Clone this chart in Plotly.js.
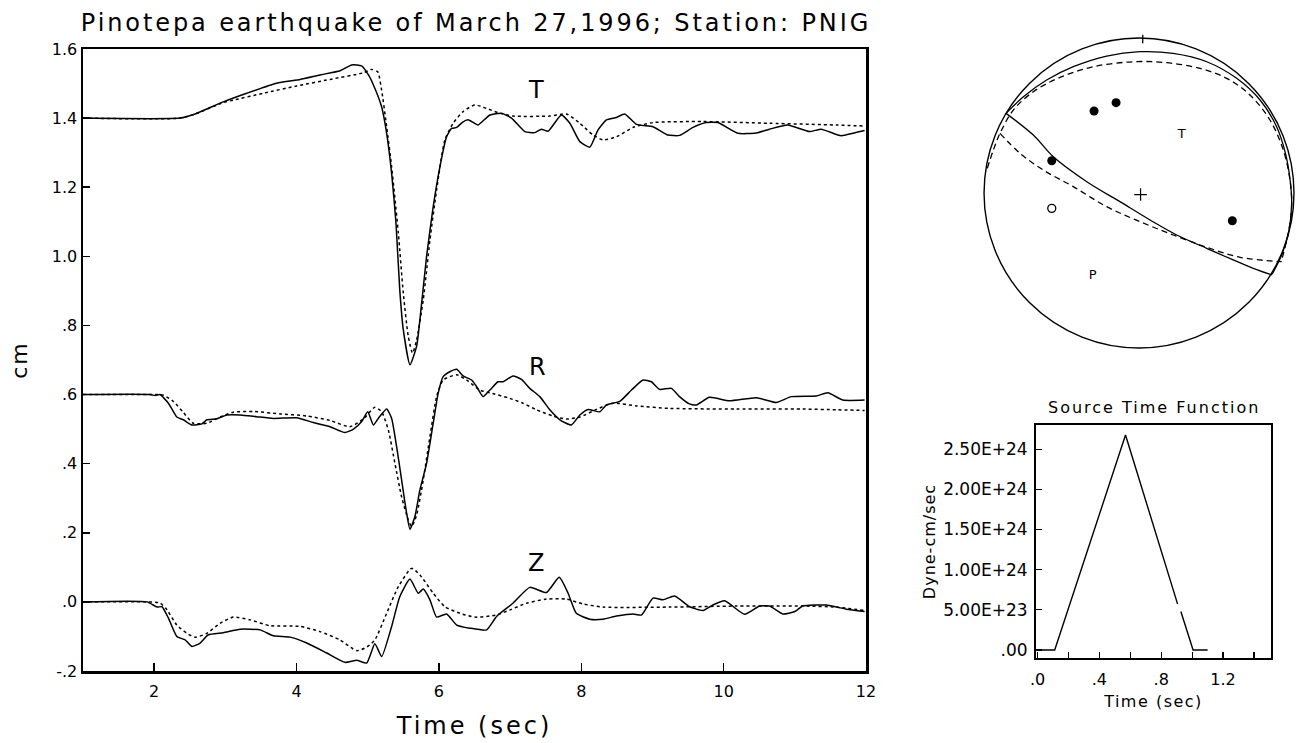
<!DOCTYPE html>
<html><head><meta charset="utf-8">
<script src="https://cdn.plot.ly/plotly-3.0.1.min.js"></script>
<style>html,body{margin:0;padding:0;background:#fff}</style>
</head><body>
<div id="chart" style="width:1296px;height:743px"></div>
<script>
// ---------------- DATA ----------------
const titleText = 'Pinotepa earthquake of March 27,1996; Station: PNIG';
const timeTicks = [2, 4, 6, 8, 10, 12];
const ampTicks = [-0.2, 0, 0.2, 0.4, 0.6, 0.8, 1.0, 1.2, 1.4, 1.6];
const ampTickText = ['-.2', '.0', '.2', '.4', '.6', '.8', '1.0', '1.2', '1.4', '1.6'];

// Transverse component [time, cm]
const obsT = [[1.0,1.4],[2.36,1.4],[2.575,1.412],[2.97,1.447],[3.30,1.472],[3.72,1.501],[4.05,1.512],[4.33,1.525],[4.61,1.537],[4.775,1.554],[4.915,1.551],[5.01,1.525],[5.08,1.496],[5.195,1.433],[5.266,1.356],[5.336,1.240],[5.397,1.096],[5.45,0.903],[5.5,0.787],[5.593,0.686],[5.687,0.74],[5.76,0.87],[5.827,1.0],[5.92,1.144],[6.014,1.259],[6.108,1.346],[6.178,1.37],[6.25,1.373],[6.33,1.388],[6.41,1.395],[6.50,1.385],[6.55,1.38],[6.716,1.409],[6.88,1.414],[7.02,1.40],[7.207,1.361],[7.347,1.358],[7.44,1.368],[7.534,1.362],[7.72,1.409],[7.84,1.385],[7.98,1.332],[8.12,1.316],[8.236,1.366],[8.354,1.395],[8.494,1.402],[8.61,1.412],[8.775,1.382],[9.008,1.375],[9.218,1.351],[9.38,1.35],[9.57,1.373],[9.757,1.387],[9.92,1.387],[10.2,1.356],[10.46,1.357],[10.645,1.368],[10.9,1.38],[11.207,1.361],[11.37,1.368],[11.65,1.349],[11.815,1.356],[11.98,1.364]];
const synT = [[1.0,1.4],[2.36,1.4],[2.575,1.412],[2.97,1.445],[3.113,1.452],[3.534,1.472],[4.0,1.493],[4.47,1.512],[4.937,1.531],[5.055,1.541],[5.14,1.534],[5.195,1.481],[5.266,1.375],[5.336,1.259],[5.43,1.067],[5.5,0.893],[5.57,0.768],[5.63,0.72],[5.687,0.758],[5.78,0.874],[5.874,1.047],[5.968,1.192],[6.084,1.337],[6.2,1.385],[6.34,1.419],[6.505,1.438],[6.67,1.428],[6.856,1.414],[7.04,1.406],[7.56,1.406],[7.79,1.412],[7.98,1.385],[8.166,1.351],[8.306,1.337],[8.494,1.346],[8.727,1.373],[9.008,1.387],[9.71,1.39],[10.645,1.385],[11.58,1.38],[11.98,1.377]];

// Radial component
const obsR = [[1.0,0.6],[1.944,0.6],[2.014,0.597],[2.08,0.6],[2.2,0.575],[2.318,0.535],[2.41,0.527],[2.53,0.512],[2.67,0.515],[2.74,0.527],[2.88,0.53],[3.02,0.541],[3.207,0.541],[3.44,0.536],[3.674,0.531],[4.0,0.533],[4.236,0.519],[4.47,0.507],[4.68,0.49],[4.8,0.5],[4.915,0.522],[5.0,0.55],[5.08,0.512],[5.148,0.531],[5.266,0.558],[5.336,0.531],[5.406,0.449],[5.476,0.353],[5.547,0.256],[5.593,0.21],[5.663,0.247],[5.733,0.324],[5.827,0.401],[5.92,0.517],[5.99,0.604],[6.06,0.652],[6.154,0.666],[6.25,0.673],[6.34,0.654],[6.46,0.642],[6.53,0.623],[6.62,0.594],[6.716,0.613],[6.83,0.637],[6.9,0.637],[7.04,0.654],[7.16,0.644],[7.277,0.618],[7.417,0.594],[7.558,0.556],[7.7,0.527],[7.86,0.512],[7.98,0.541],[8.096,0.557],[8.26,0.55],[8.354,0.57],[8.54,0.58],[8.705,0.613],[8.867,0.642],[8.985,0.637],[9.1,0.615],[9.266,0.618],[9.38,0.594],[9.52,0.573],[9.617,0.57],[9.8,0.592],[10.08,0.582],[10.46,0.591],[10.74,0.577],[10.95,0.594],[11.3,0.596],[11.465,0.605],[11.675,0.584],[11.98,0.584]];
const synR = [[1.0,0.6],[2.04,0.6],[2.13,0.598],[2.27,0.58],[2.41,0.548],[2.55,0.517],[2.74,0.517],[2.926,0.535],[3.113,0.549],[3.394,0.551],[3.768,0.544],[4.143,0.538],[4.47,0.525],[4.75,0.507],[4.937,0.529],[5.1,0.563],[5.196,0.55],[5.29,0.497],[5.382,0.401],[5.476,0.304],[5.57,0.237],[5.617,0.218],[5.687,0.252],[5.78,0.353],[5.874,0.478],[5.968,0.594],[6.06,0.642],[6.25,0.657],[6.39,0.642],[6.575,0.613],[6.716,0.605],[6.996,0.589],[7.18,0.575],[7.37,0.556],[7.6,0.538],[7.79,0.529],[7.98,0.535],[8.213,0.557],[8.446,0.575],[8.775,0.567],[9.24,0.56],[10.18,0.558],[11.11,0.558],[11.58,0.556],[11.98,0.554]];

// Vertical component
const obsZ = [[1.0,0],[1.9,0],[2.04,-0.015],[2.11,-0.014],[2.2,-0.047],[2.318,-0.1],[2.435,-0.11],[2.53,-0.129],[2.646,-0.119],[2.76,-0.095],[2.97,-0.089],[3.207,-0.079],[3.488,-0.081],[3.674,-0.098],[3.909,-0.102],[4.143,-0.119],[4.424,-0.148],[4.68,-0.175],[4.845,-0.169],[4.985,-0.177],[5.1,-0.121],[5.196,-0.158],[5.336,-0.071],[5.45,0.015],[5.593,0.066],[5.71,0.025],[5.78,0.037],[5.874,0.006],[5.968,-0.044],[6.108,-0.035],[6.25,-0.067],[6.435,-0.076],[6.67,-0.081],[6.81,-0.042],[7.04,-0.004],[7.277,0.042],[7.51,0.027],[7.69,0.071],[7.815,0.025],[7.93,-0.033],[8.12,-0.05],[8.306,-0.05],[8.494,-0.041],[8.727,-0.035],[8.845,-0.038],[9.008,0.011],[9.148,0.006],[9.312,0.017],[9.523,-0.014],[9.71,-0.025],[9.85,-0.009],[10.014,0.003],[10.295,-0.036],[10.505,-0.012],[10.645,-0.012],[10.83,-0.035],[11.0,-0.028],[11.11,-0.012],[11.44,-0.009],[11.72,-0.021],[11.98,-0.028]];
const synZ = [[1.0,0],[1.9,0],[2.08,-0.003],[2.18,-0.023],[2.318,-0.067],[2.46,-0.091],[2.575,-0.102],[2.74,-0.091],[2.926,-0.062],[3.113,-0.044],[3.347,-0.052],[3.628,-0.069],[4.05,-0.071],[4.33,-0.086],[4.61,-0.11],[4.845,-0.141],[4.985,-0.131],[5.1,-0.11],[5.266,-0.033],[5.43,0.044],[5.617,0.097],[5.733,0.078],[5.92,0.025],[6.084,-0.014],[6.295,-0.033],[6.505,-0.044],[6.81,-0.038],[7.0,-0.023],[7.23,-0.004],[7.51,0.008],[7.79,0.008],[8.025,-0.006],[8.306,-0.015],[9.24,-0.015],[10.18,-0.012],[11.11,-0.012],[11.58,-0.015],[11.98,-0.025]];

const compLabels = ['T', 'R', 'Z'];
const compLabelPos = [[7.37,1.481],[7.39,0.681],[7.37,0.112]];

// Source time function
const stfTime = [0, 0.111, 0.569, 0.906, null, 0.927, 1.006, 1.10];
const stfRate = [0, 0, 2.675e24, 5.71e23, null, 4.79e23, 0, 0];
const stfTickVals = [0, 0.2, 0.4, 0.6, 0.8, 1.0, 1.2, 1.4];
const stfTickText = ['.0', '', '.4', '', '.8', '', '1.2', ''];
const stfYTicks = [0, 5e23, 1e24, 1.5e24, 2e24, 2.5e24];
const stfYText = ['.00', '5.00E+23', '1.00E+24', '1.50E+24', '2.00E+24', '2.50E+24'];

// Focal mechanism (lower hemisphere, unit radius)
const planeA = [[-0.858,0.514],[-0.746,0.621],[-0.596,0.729],[-0.424,0.815],[-0.209,0.884],[0.006,0.912],[0.221,0.901],[0.437,0.847],[0.630,0.740],[0.781,0.600],[0.888,0.428],[0.945,0.256],[0.975,0.084],[0.985,-0.066],[0.968,-0.239],[0.925,-0.389],[0.860,-0.523]];
const planeB = [[-0.858,0.514],[-0.682,0.374],[-0.553,0.234],[-0.337,0.073],[-0.123,-0.056],[0.071,-0.174],[0.243,-0.271],[0.437,-0.357],[0.608,-0.432],[0.737,-0.486],[0.860,-0.529]];
const planeC = [[-0.979,0.159],[-0.940,0.277],[-0.897,0.385],[-0.811,0.535],[-0.682,0.654],[-0.510,0.746],[-0.295,0.815],[-0.037,0.847],[0.179,0.841],[0.394,0.804],[0.566,0.740],[0.716,0.632],[0.845,0.471],[0.931,0.277],[0.974,0.084],[0.985,-0.088],[0.963,-0.260],[0.921,-0.432]];
const planeD = [[-0.897,0.385],[-0.768,0.256],[-0.617,0.148],[-0.424,0.041],[-0.209,-0.088],[0.006,-0.185],[0.221,-0.271],[0.437,-0.350],[0.652,-0.415],[0.921,-0.443]];
const compressions = [[-0.290,0.529],[-0.148,0.583],[-0.563,0.208],[0.602,-0.179]];
const dilatations = [[-0.563,-0.099]];
const centerMark = [[0.01,-0.01]];
const northMark = [[0.024,0.966],[0.024,1.022]];
const axisLabels = [['T',0.275,0.374],['P',-0.299,-0.535]];

// ---------------- LAYOUT HELPERS ----------------
const W = 1296, H = 743;
const FONT = 'DejaVu Sans, Liberation Sans, sans-serif';
const px = v => v / W;
const py = v => 1 - v / H;
const xs = a => a.map(p => p[0]);
const ys = a => a.map(p => p[1]);

const solid = {color: '#000', width: 1.5, shape: 'spline', smoothing: 0.5};
const dotted = {color: '#000', width: 1.5, dash: '3px,3px', shape: 'spline', smoothing: 0.6};

const traces = [];
[[obsT, synT], [obsR, synR], [obsZ, synZ]].forEach(([o, s]) => {
  traces.push({x: xs(s), y: ys(s), type: 'scatter', mode: 'lines', line: dotted, xaxis: 'x', yaxis: 'y', hoverinfo: 'skip'});
  traces.push({x: xs(o), y: ys(o), type: 'scatter', mode: 'lines', line: solid, xaxis: 'x', yaxis: 'y', hoverinfo: 'skip'});
});

traces.push({x: stfTime, y: stfRate, type: 'scatter', mode: 'lines', line: {color: '#000', width: 1.4}, connectgaps: false, xaxis: 'x2', yaxis: 'y2'});

const bb = {xaxis: 'x3', yaxis: 'y3', type: 'scatter', hoverinfo: 'skip'};
traces.push(Object.assign({x: xs(planeA), y: ys(planeA), mode: 'lines', line: {color: '#000', width: 1.3, shape: 'spline'}}, bb));
traces.push(Object.assign({x: xs(planeB), y: ys(planeB), mode: 'lines', line: {color: '#000', width: 1.3, shape: 'spline'}}, bb));
traces.push(Object.assign({x: xs(planeC), y: ys(planeC), mode: 'lines', line: {color: '#000', width: 1.3, dash: '6px,4px', shape: 'spline'}}, bb));
traces.push(Object.assign({x: xs(planeD), y: ys(planeD), mode: 'lines', line: {color: '#000', width: 1.3, dash: '6px,4px', shape: 'spline'}}, bb));
traces.push(Object.assign({x: xs(northMark), y: ys(northMark), mode: 'lines', line: {color: '#000', width: 1.3}}, bb));
traces.push(Object.assign({x: xs(compressions), y: ys(compressions), mode: 'markers', marker: {symbol: 'circle', size: 9, color: '#000'}}, bb));
traces.push(Object.assign({x: xs(dilatations), y: ys(dilatations), mode: 'markers', marker: {symbol: 'circle-open', size: 8, color: '#000', line: {width: 1.3}}}, bb));
traces.push(Object.assign({x: xs(centerMark), y: ys(centerMark), mode: 'markers', marker: {symbol: 'cross-thin-open', size: 9, color: '#000', line: {width: 1.2, color: '#000'}}}, bb));
traces.push(Object.assign({x: axisLabels.map(a => a[1]), y: axisLabels.map(a => a[2]), text: axisLabels.map(a => a[0]), mode: 'text', textfont: {family: FONT, size: 13, color: '#000'}}, bb));

const annotations = compLabels.map((t, i) => ({
  text: t, x: compLabelPos[i][0], y: compLabelPos[i][1], xref: 'x', yref: 'y',
  showarrow: false, font: {family: FONT, size: 24, color: '#000'}, xanchor: 'center', yanchor: 'middle'
}));
annotations.push({text: 'Source Time Function', x: px(1154), y: py(407), xref: 'paper', yref: 'paper',
  showarrow: false, font: {family: FONT, size: 16, color: '#000'}, xanchor: 'center', yanchor: 'middle'});

const axisCommon = {showgrid: false, zeroline: false, showline: true, linecolor: '#000', mirror: true,
  ticks: 'inside', tickcolor: '#000', tickfont: {family: FONT, size: 16, color: '#000'}};

const layout = {
  width: W, height: H,
  margin: {l: 0, r: 0, t: 0, b: 0},
  paper_bgcolor: '#fff', plot_bgcolor: '#fff',
  showlegend: false,
  font: {family: FONT, color: '#000'},
  title: {text: titleText, x: px(476), xanchor: 'center', y: py(23), yanchor: 'middle', xref: 'paper', yref: 'paper',
          font: {family: FONT, size: 24, color: '#000'}},
  xaxis: Object.assign({}, axisCommon, {domain: [px(83), px(866)], range: [1, 12], tickvals: timeTicks,
          ticklen: 8, tickwidth: 1.5, linewidth: 2.5, anchor: 'y', ticklabelstandoff: 4,
          title: {text: 'Time (sec)', font: {family: FONT, size: 24, color: '#000'}, standoff: 18}}),
  yaxis: Object.assign({}, axisCommon, {domain: [py(671), py(49)], range: [-0.2, 1.6], tickvals: ampTicks,
          ticktext: ampTickText, ticklen: 7, tickwidth: 1.5, linewidth: 2.5, anchor: 'x',
          title: {text: 'cm', font: {family: FONT, size: 22, color: '#000'}, standoff: 18}}),
  xaxis2: Object.assign({}, axisCommon, {domain: [px(1036), px(1271)], range: [-0.01, 1.51], tickvals: stfTickVals,
          ticktext: stfTickText, ticklen: 6, tickwidth: 1.2, linewidth: 2, anchor: 'y2', ticklabelstandoff: 6,
          tickfont: {family: FONT, size: 16, color: '#000'},
          title: {text: 'Time (sec)', font: {family: FONT, size: 16, color: '#000'}, standoff: 8}}),
  yaxis2: Object.assign({}, axisCommon, {domain: [py(658), py(425)], range: [-1e23, 2.8e24], tickvals: stfYTicks,
          ticktext: stfYText, ticklen: 6, tickwidth: 1.2, linewidth: 2, anchor: 'x2', ticklabelstandoff: 3,
          tickfont: {family: FONT, size: 17, color: '#000'},
          title: {text: 'Dyne-cm/sec', font: {family: FONT, size: 16, color: '#000'}, standoff: 4}}),
  xaxis3: {domain: [px(978), 1], range: [-1.039, 1.013], visible: false, anchor: 'y3'},
  yaxis3: {domain: [py(356), py(30)], range: [-1.052, 1.052], visible: false, anchor: 'x3'},
  shapes: [{type: 'circle', xref: 'x3', yref: 'y3', x0: -1, x1: 1, y0: -1, y1: 1, line: {color: '#000', width: 1.4}}],
  annotations: annotations
};

Plotly.newPlot('chart', traces, layout, {staticPlot: true, displayModeBar: false}).then(gd => {
  // widen letter spacing to mimic the plotter's stroke font
  const sp = (sel, v) => gd.querySelectorAll(sel).forEach(el => el.setAttribute('letter-spacing', v));
  sp('.gtitle', '2.9px');
  sp('.xtitle', '3px');
  sp('.x2title', '1.5px');
  sp('.ytitle', '2px');
  sp('.y2title', '1px');
  const ann = gd.querySelectorAll('.annotation-text');
  if (ann.length) ann[ann.length - 1].setAttribute('letter-spacing', '2px');
});
</script>
</body></html>
